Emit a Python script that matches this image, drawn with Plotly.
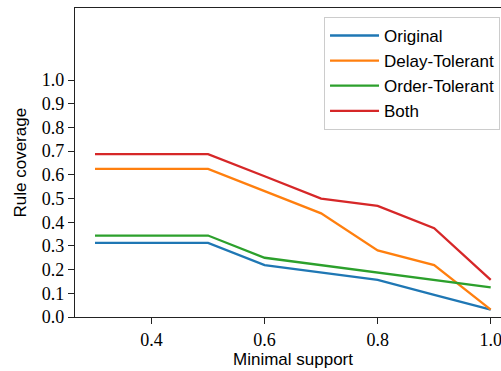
import plotly.graph_objects as go

support = [0.3, 0.5, 0.6, 0.7, 0.8, 0.9, 1.0]
original = [0.3125, 0.3125, 0.21875, 0.1875, 0.15625, 0.09375, 0.03125]
delay_tolerant = [0.625, 0.625, 0.53125, 0.4375, 0.28125, 0.21875, 0.03125]
order_tolerant = [0.34375, 0.34375, 0.25, 0.21875, 0.1875, 0.15625, 0.125]
both = [0.6875, 0.6875, 0.59375, 0.5, 0.46875, 0.375, 0.15625]

series = [
    ("Original", original, "#1f77b4"),
    ("Delay-Tolerant", delay_tolerant, "#ff7f0e"),
    ("Order-Tolerant", order_tolerant, "#2ca02c"),
    ("Both", both, "#d62728"),
]

y_ticks = [i / 10 for i in range(11)]
y_ticktext = [f"{v:.1f}" for v in y_ticks]
x_ticks = [0.4, 0.6, 0.8, 1.0]
x_ticktext = ["0.4", "0.6", "0.8", "1.0"]

fig = go.Figure()
for name, vals, color in series:
    fig.add_trace(go.Scatter(x=support, y=vals, mode="lines", name=name,
                             line=dict(color=color, width=2.3)))

serif = "Liberation Serif"
sans = "Liberation Sans"
axis_col = "#222222"

fig.update_layout(
    width=501, height=371,
    margin=dict(l=75, r=0, t=8, b=54),
    paper_bgcolor="white", plot_bgcolor="white",
    showlegend=True,
    legend=dict(x=0.9977, y=0.971, xanchor="right", yanchor="top",
                bgcolor="rgba(255,255,255,0.8)", bordercolor="#cccccc", borderwidth=1,
                font=dict(family=sans, size=17, color="black"),
                itemwidth=49, tracegroupgap=0),
    xaxis=dict(range=[0.2646, 1.0182], tickvals=x_ticks, ticktext=x_ticktext,
               showgrid=False, zeroline=False, showline=True, linecolor=axis_col,
               linewidth=1.3, mirror=True, ticks="outside", ticklen=6, tickwidth=1.2,
               ticklabeloverflow="allow",
               tickcolor=axis_col, tickfont=dict(family=serif, size=18, color="black")),
    yaxis=dict(range=[0, 1.304], tickvals=y_ticks, ticktext=y_ticktext,
               showgrid=False, zeroline=False, showline=True, linecolor=axis_col,
               linewidth=1.3, mirror=False, ticks="outside", ticklen=6, tickwidth=1.2,
               tickcolor=axis_col, tickfont=dict(family=serif, size=18, color="black")),
    annotations=[
        dict(text="Minimal support", xref="x", yref="paper", x=0.65, y=0,
             yanchor="middle", yshift=-42, showarrow=False,
             font=dict(family=sans, size=17, color="black")),
        dict(text="Rule coverage", xref="paper", yref="paper", x=0, y=0.5,
             xanchor="center", yanchor="middle", xshift=-55, textangle=-90,
             showarrow=False, font=dict(family=sans, size=17, color="black")),
    ],
)

fig.write_html(
    "out.html",
    config={"displayModeBar": False},
    post_script="document.body.style.margin='0';document.body.style.overflow='hidden';",
)
